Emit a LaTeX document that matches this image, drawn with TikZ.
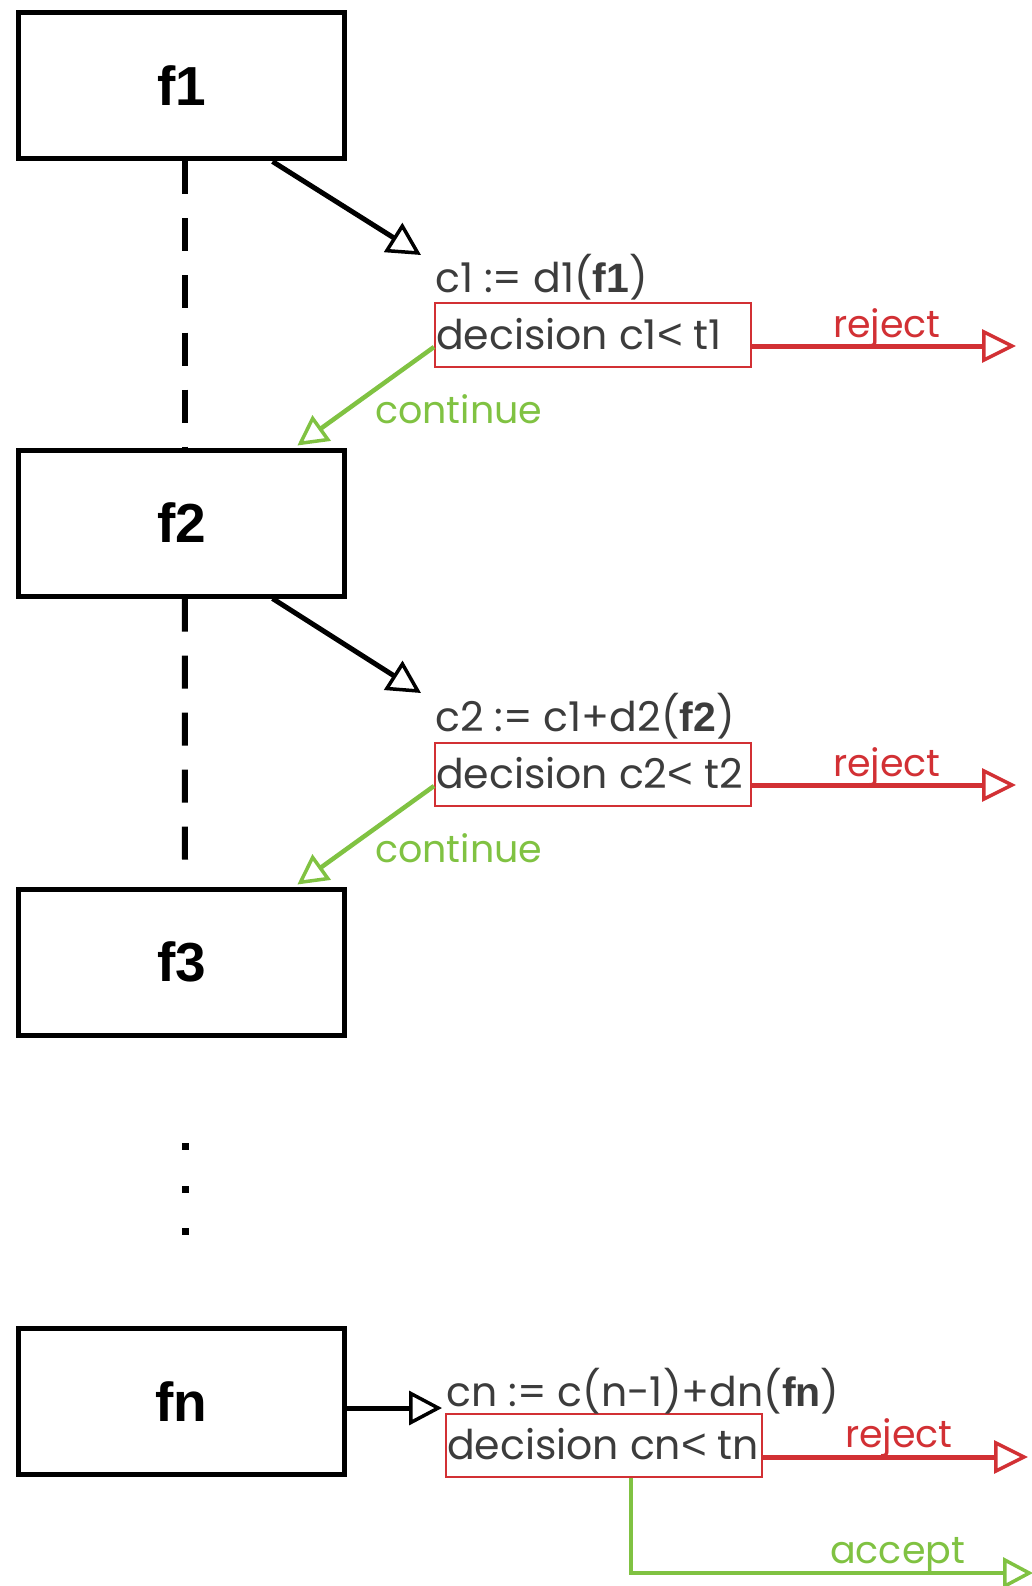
\documentclass[tikz,border=0pt]{standalone}
\usepackage{fontspec}
\setmainfont{Poppins}
\newfontfamily\boxfont{Liberation Sans}
\usetikzlibrary{arrows.meta,calc}
\definecolor{rej}{RGB}{210,48,52}
\definecolor{acc}{RGB}{128,194,66}
\definecolor{txt}{RGB}{60,60,60}
\newcommand{\bfb}[1]{{\boxfont\bfseries #1}}
\newcommand{\lessth}{{\boxfont\fontsize{44}{44}\selectfont<}}
\newcommand{\dectext}[1]{\makebox[314pt][l]{#1}}
\begin{document}
\begin{tikzpicture}[x=1pt,y=-1pt,
  fbox/.style={draw,line width=5pt,minimum width=326pt,minimum height=146pt,inner sep=0pt,
    font=\boxfont\bfseries\fontsize{55}{55}\selectfont},
  decbox/.style={draw=rej,line width=2pt,minimum width=316pt,minimum height=63pt,
    inner xsep=1pt,inner ysep=0pt,text height=38pt,text depth=10pt,
    text=txt,font=\fontsize{41}{41}\selectfont},
  formula/.style={anchor=base west,inner sep=0pt,text=txt,font=\fontsize{41}{41}\selectfont},
  lab/.style={anchor=base west,inner sep=0pt,font=\fontsize{38}{38}\selectfont},
  blkarrow/.style={line width=5pt,-{Triangle[open,length=33pt,width=34pt,line width=3.5pt]}},
  rejarrow/.style={draw=rej,line width=5pt,-{Triangle[open,length=34pt,width=33pt,line width=3.5pt]}},
  accarrow/.style={draw=acc,line width=4.5pt,-{Triangle[open,length=30pt,width=31pt,line width=3.5pt]}},
  dashline/.style={line width=6pt,dash pattern=on 33pt off 24pt}
]
\useasboundingbox (0,0) rectangle (1031,1586);
% function boxes
\node[fbox] (f1) at (181.5,86) {f1};
\node[fbox] (f2) at (181.5,523) {f2};
\node[fbox] (f3) at (181.5,962) {f3};
\node[fbox] (fn) at (181.5,1401.5) {fn};
% dashed links
\coordinate (d2end) at (185,863);
\draw[dashline] ($(f1.south west)!0.51!(f1.south east)$) -- ($(f2.north west)!0.51!(f2.north east)$);
\draw[dashline] ($(f2.south west)!0.51!(f2.south east)$) -- (d2end);
% dots
\fill (181.5,1142.5) rectangle (188.5,1149.5);
\fill (181.5,1185.5) rectangle (188.5,1192.5);
\fill (181.5,1227.5) rectangle (188.5,1234.5);
% decision boxes
\node[decbox] (d1) at (593,335) {\dectext{decision c1\lessth{} t1}};
\node[decbox] (d2) at (593,774) {\dectext{decision c2\lessth{} t2}};
\node[decbox] (dn) at (604,1445) {\dectext{decision cn\lessth{} tn}};
% formulas
\node[formula] (c1) at ($(d1.north west)+(1,-10)$) {c1 := d1(\bfb{f1})};
\node[formula] (c2) at ($(d2.north west)+(1,-10)$) {c2 := c1+d2(\bfb{f2})};
\node[formula] (cn) at ($(dn.north west)+(1,-6)$) {cn := c(n-1)+dn(\bfb{fn})};
% arrows from function boxes
\coordinate (t1) at (421,255);
\coordinate (t2) at (421,693);
\coordinate (tn) at (442,1408);
\draw[blkarrow] ($(f1.south west)!0.775!(f1.south east)$) -- (t1);
\draw[blkarrow] ($(f2.south west)!0.775!(f2.south east)$) -- (t2);
\draw[blkarrow] ($(fn.east)+(0,6.5)$) -- (tn);
% reject arrows
\coordinate (r1) at (1016,346);
\coordinate (r2) at (1016,785);
\coordinate (rn) at (1028,1457);
\draw[rejarrow] (d1.east |- r1) -- (r1);
\draw[rejarrow] (d2.east |- r2) -- (r2);
\draw[rejarrow] (dn.east |- rn) -- (rn);
\node[lab,text=rej] (rl1) at (833,337) {reject};
\node[lab,text=rej] (rl2) at (833,776) {reject};
\node[lab,text=rej] (rln) at (845,1447) {reject};
% continue arrows
\draw[accarrow] ($(d1.west)+(0,12)$) -- ($(f2.north west)!0.85!(f2.north east)+(0,-2)$);
\draw[accarrow] ($(d2.west)+(0,12)$) -- ($(f3.north west)!0.85!(f3.north east)+(0,-2)$);
\node[lab,text=acc] (cl1) at (375,423) {continue};
\node[lab,text=acc] (cl2) at (375,862) {continue};
% accept
\coordinate (acctip) at (1033,1573);
\draw[accarrow] ($(dn.south west)!0.585!(dn.south east)$) |- (acctip);
\node[lab,text=acc] (al) at (830,1563) {accept};
\end{tikzpicture}
\end{document}
